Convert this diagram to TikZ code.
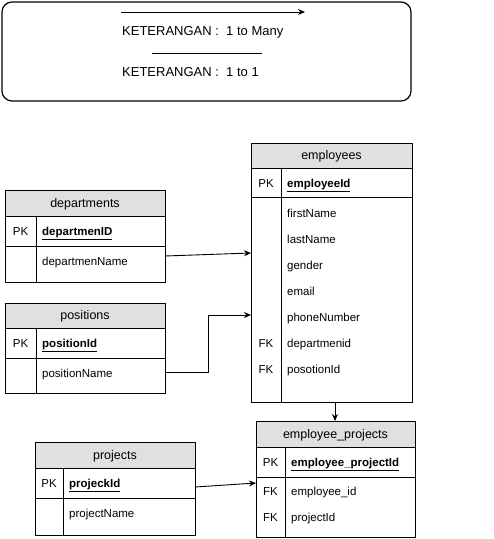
\documentclass[tikz,border=0pt]{standalone}
\usepackage{fontspec}
\setmainfont{Liberation Sans}
\usetikzlibrary{arrows.meta}

\tikzset{
  tbl/.style={draw, line width=0.9pt},
  hdr/.style={draw, line width=0.9pt, fill=black!12},
  title/.style={inner sep=0pt, yshift=-1pt, text height=9pt, text depth=3pt, font=\fontsize{12.5}{14}\selectfont},
  row/.style={anchor=west, inner sep=0pt, yshift=-1pt, text height=8.5pt, text depth=2.5pt, font=\fontsize{11.5}{13}\selectfont},
  key/.style={inner sep=0pt, yshift=-1pt, text height=8.5pt, text depth=2.5pt, font=\fontsize{11.5}{13}\selectfont},
  legend/.style={row, text height=9.5pt, text depth=3pt, font=\fontsize{13}{15}\selectfont},
  arr/.style={line width=0.9pt, -{Stealth[length=7pt,width=6pt]}},
}

\begin{document}
\begin{tikzpicture}[x=1pt,y=-1pt]
                \useasboundingbox (0,0) rectangle (494,539);
                % legend
                \draw[line width=1.2pt, rounded corners=10pt] (2,2) rectangle (411,101);
                \coordinate (manyA) at (121,12);
                \coordinate (manyB) at (305,12);
                \draw[arr] (manyA) -- (manyB);
                \node[legend] (manytxt) at (122,31) {KETERANGAN :\ \ 1 to Many};
                \coordinate (oneA) at (152,53);
                \coordinate (oneB) at (262,53);
                \draw[line width=0.9pt] (oneA) -- (oneB);
                \node[legend] (onetxt) at (122,72) {KETERANGAN :\ \ 1 to 1};

                % departments
                \draw[hdr] (5,190) rectangle (165,216);
                \draw[tbl] (5,216) rectangle (165,246);
                \draw[tbl] (5,246) rectangle (165,282);
                \draw[tbl] (36,216) -- (36,282);
                \node[title] (dept) at (85,203) {departments};
                \node[key] (deptpk) at (20.5,231) {PK};
                \node[row] (deptid) at (42,231) {\underline{\textbf{departmenID}}};
                \node[row] (deptname) at (42,261) {departmenName};

                % positions
                \draw[hdr] (5,303) rectangle (165,328);
                \draw[tbl] (5,328) rectangle (165,358);
                \draw[tbl] (5,358) rectangle (165,393);
                \draw[tbl] (36,328) -- (36,393);
                \node[title] (pos) at (85,315.5) {positions};
                \node[key] (pospk) at (20.5,343) {PK};
                \node[row] (posid) at (42,343) {\underline{\textbf{positionId}}};
                \node[row] (posname) at (42,373) {positionName};

                % employees
                \draw[hdr] (251,143) rectangle (412,168);
                \draw[tbl] (251,168) rectangle (412,197);
                \draw[tbl] (251,197) rectangle (412,402);
                \draw[tbl] (281,168) -- (281,402);
                \node[title] (emp) at (331.5,155.5) {employees};
                \node[key] (emppk) at (266,183) {PK};
                \node[row] (empid) at (287,183) {\underline{\textbf{employeeId}}};
                \foreach \name [count=\i] in {firstName,lastName,gender,email,phoneNumber,departmenid,posotionId}{
                    \node[row] (emp\i) at (287,187+26*\i) {\name};
                }
                \node[key] (empfk1) at (266,343) {FK};
                \node[key] (empfk2) at (266,369) {FK};

                % employee_projects
                \draw[hdr] (256,421) rectangle (415,447);
                \draw[tbl] (256,447) rectangle (415,477);
                \draw[tbl] (256,477) rectangle (415,537);
                \draw[tbl] (285,447) -- (285,537);
                \node[title] (ep) at (335.5,434) {employee\_projects};
                \node[key] (eppk) at (270.5,462) {PK};
                \node[row] (epid) at (291,462) {\underline{\textbf{employee\_projectId}}};
                \node[key] (epfk1) at (270.5,491) {FK};
                \node[row] (epemp) at (291,491) {employee\_id};
                \node[key] (epfk2) at (270.5,517) {FK};
                \node[row] (epproj) at (291,517) {projectId};

                % projects
                \draw[hdr] (35,442) rectangle (195,468);
                \draw[tbl] (35,468) rectangle (195,498);
                \draw[tbl] (35,498) rectangle (195,535);
                \draw[tbl] (63,468) -- (63,535);
                \node[title] (proj) at (115,455) {projects};
                \node[key] (projpk) at (49,483) {PK};
                \node[row] (projid) at (69,483) {\underline{\textbf{projeckId}}};
                \node[row] (projname) at (69,513) {projectName};

                % relations
                \coordinate (deptout) at (165,256);
                \coordinate (empin1) at (251,253);
                \draw[arr] (deptout) -- (empin1);
                \coordinate (posout) at (165,372);
                \coordinate (empin2) at (251,315);
                \draw[arr] (posout) -- (208,372) -- (208,315) -- (empin2);
                \coordinate (empout) at (335,402);
                \coordinate (epin1) at (335,421);
                \draw[arr] (empout) -- (epin1);
                \coordinate (projout) at (195,487);
                \coordinate (epin2) at (256,483);
                \draw[arr] (projout) -- (epin2);
            \end{tikzpicture}
\end{document}
